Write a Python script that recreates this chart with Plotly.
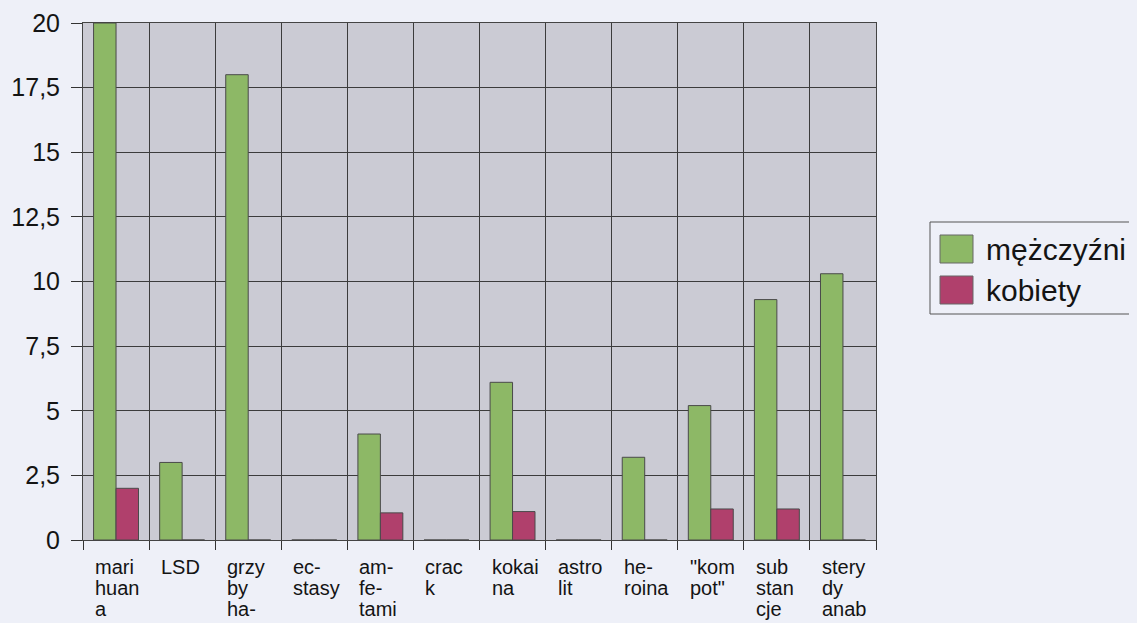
import plotly.graph_objects as go

categories = ["marihuana", "LSD", "grzyby", "ecstasy", "amfetamina", "crack",
              "kokaina", "astrolit", "heroina", "kompot", "substancje", "sterydy"]
tick_labels = [["mari", "huan", "a"], ["LSD"], ["grzy", "by", "ha-"], ["ec-", "stasy"],
               ["am-", "fe-", "tami"], ["crac", "k"], ["kokai", "na"], ["astro", "lit"],
               ["he-", "roina"], ["\"kom", "pot\""], ["sub", "stan", "cje"], ["stery", "dy", "anab"]]
men = [20, 3, 18, 0, 4.1, 0, 6.1, 0, 3.2, 5.2, 9.3, 10.3]
women = [2, 0, 0, 0, 1.05, 0, 1.1, 0, 0, 1.2, 1.2, 0]
series_names = ["mężczyźni", "kobiety"]
y_ticks = [0, 2.5, 5, 7.5, 10, 12.5, 15, 17.5, 20]
y_tick_text = ["0", "2,5", "5", "7,5", "10", "12,5", "15", "17,5", "20"]

GREEN = "#8DB866"
RED = "#B0406C"
BG = "#EEF0F8"
FONT = "Liberation Sans, Arial, sans-serif"
TXT = "#141414"

OFF = 8  # page body margin
W, H = 1137 - OFF, 623 - OFF
L, R, T, B = 83 - OFF, 876 - OFF, 23 - OFF, 540 - OFF

fig = go.Figure()
xs = list(range(len(categories)))
fig.add_trace(go.Bar(x=xs, y=men, name=series_names[0], marker_color=GREEN,
                     marker_line_color="#4a4a4a", marker_line_width=1, showlegend=False))
fig.add_trace(go.Bar(x=xs, y=women, name=series_names[1], marker_color=RED,
                     marker_line_color="#4a4a4a", marker_line_width=1, showlegend=False))

fig.update_layout(
    width=W, height=H,
    margin=dict(l=L, r=W - R, t=T, b=H - B, autoexpand=False),
    paper_bgcolor=BG,
    plot_bgcolor="#CBCBD4",
    barmode="group", bargap=0.32, bargroupgap=0,
    font=dict(family=FONT, color=TXT),
)
fig.update_xaxes(
    type="linear", range=[-0.5, len(categories) - 0.5], automargin=False,
    tickvals=[i - 0.5 for i in range(len(categories) + 1)], showticklabels=False,
    ticks="outside", ticklen=9, tickcolor="#333", tickwidth=1,
    showgrid=True, gridcolor="#3c3c3c", gridwidth=1,
    showline=True, linecolor="#444", linewidth=1, mirror=True, zeroline=False,
)
fig.update_yaxes(
    range=[0, 20], tickvals=y_ticks, ticktext=y_tick_text, automargin=False,
    ticks="outside", ticklen=11, tickcolor="#333", ticklabelstandoff=6,
    tickfont=dict(size=25, family=FONT, color=TXT),
    showgrid=True, gridcolor="#3c3c3c", gridwidth=1,
    showline=True, linecolor="#444", linewidth=1, mirror=True, zeroline=False,
)

# category labels (left-aligned, wrapped lines)
for i, lines in enumerate(tick_labels):
    for j, line in enumerate(lines):
        fig.add_annotation(x=i - 0.5, y=0, xref="x", yref="paper",
                           text=line, showarrow=False, xanchor="left", yanchor="top",
                           xshift=10, yshift=-14 - 21 * j,
                           font=dict(size=20, family=FONT, color=TXT))

# legend (manual, large swatches)
def px(xp):
    return (xp - OFF - L) / (R - L)

def py(yp):
    return (B - (yp - OFF)) / (B - T)

fig.add_shape(type="rect", xref="paper", yref="paper",
              x0=px(930), x1=px(1160), y0=py(222), y1=py(314),
              line=dict(color="#555", width=1), fillcolor="rgba(0,0,0,0)")
for k, (name, col) in enumerate(zip(series_names, [GREEN, RED])):
    top = 235 + 41 * k
    fig.add_shape(type="rect", xref="paper", yref="paper",
                  x0=px(940), x1=px(973), y0=py(top), y1=py(top + 28),
                  line=dict(color="#666", width=1), fillcolor=col)
    fig.add_annotation(x=px(984), y=py(top + 14), xref="paper", yref="paper",
                       text=name, showarrow=False, xanchor="left", yanchor="middle",
                       font=dict(size=30, family=FONT, color=TXT))

fig.write_html("out.html",
               post_script="document.body.style.background='%s';" % BG)
